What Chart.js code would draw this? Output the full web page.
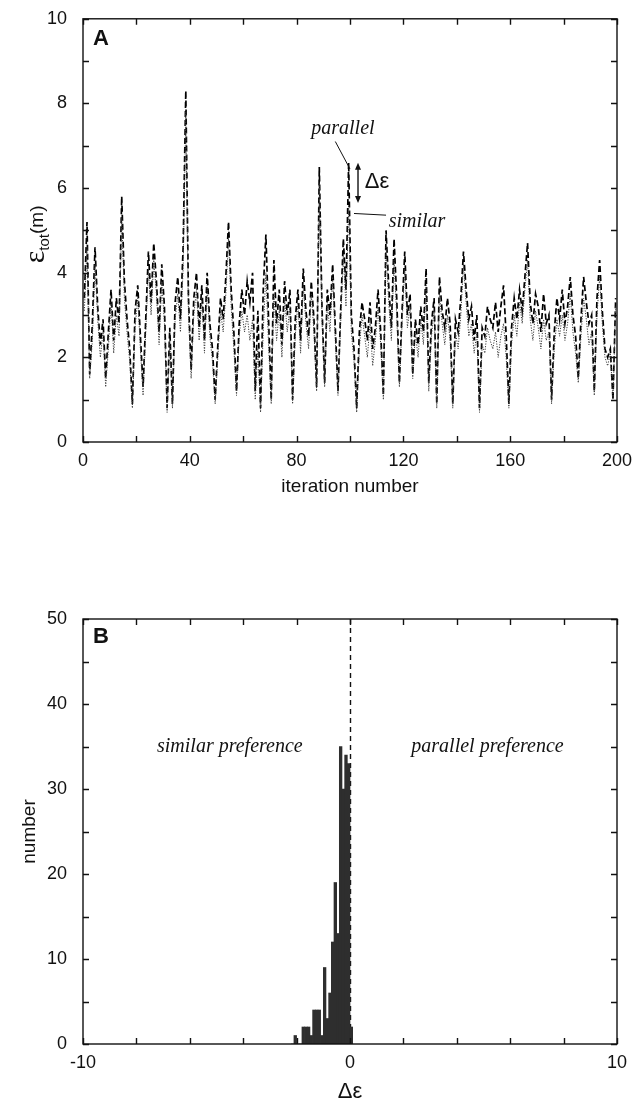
<!DOCTYPE html>
<html lang="en">
<head>
    <meta charset="UTF-8">
    <title>Total energy per iteration and Δε histogram</title>
    <script src="https://cdn.jsdelivr.net/npm/chart.js"></script>
    <style>
        body {
            margin: 0;
            background: #fff;
        }
        canvas {
            position: absolute;
            left: 0;
        }
        #chartA { top: 0; }
        #chartB { top: 540px; }
    </style>
</head>
<body>
    <canvas id="chartA" width="642" height="540"></canvas>
    <canvas id="chartB" width="642" height="564"></canvas>

    <script>
        // Panel A: total energy per iteration
        const parallelEnergy = [
            3.4, 5.2, 1.6, 2.8, 4.6, 3.2, 2.3, 2.9, 1.5, 2.6,
            3.6, 2.4, 3.4, 2.8, 5.8, 3.8, 2.9, 2.2, 0.9, 3.1,
            3.7, 2.5, 1.3, 2.9, 4.5, 3.3, 4.7, 3.8, 2.6, 4.2,
            3.2, 0.8, 2.7, 0.9, 3.3, 3.9, 2.9, 4.6, 8.3, 3.4,
            1.7, 3.4, 4.0, 2.7, 3.7, 2.4, 4.0, 2.8, 2.2, 1.0,
            2.3, 3.4, 2.9, 3.9, 5.2, 3.6, 2.6, 1.2, 2.8, 3.6,
            3.0, 3.8, 3.3, 4.0, 1.2, 3.1, 0.8, 3.6, 4.9, 2.9,
            1.0, 4.3, 2.8, 3.6, 2.3, 3.8, 3.0, 3.6, 1.0, 2.9,
            3.6, 2.4, 4.1, 3.1, 2.5, 3.8, 2.9, 1.3, 6.5, 3.2,
            1.4, 3.6, 3.0, 4.2, 2.7, 1.2, 3.1, 4.8, 3.6, 6.6,
            3.0, 2.2, 0.8, 2.6, 3.3, 2.9, 2.4, 3.3, 2.2, 2.7,
            3.6, 2.6, 1.1, 5.0, 3.7, 2.7, 4.8, 3.4, 1.4, 3.1,
            4.5, 3.0, 3.5, 1.6, 2.9, 2.3, 3.2, 2.6, 4.1, 1.4,
            2.8, 3.4, 0.9, 3.9, 3.1, 2.7, 3.4, 2.8, 0.9, 2.9,
            2.6, 3.4, 4.5, 3.6, 2.9, 3.2, 2.4, 3.0, 0.8, 2.7,
            2.5, 3.2, 2.9, 2.7, 3.3, 2.6, 3.2, 3.7, 2.5, 0.9,
            2.7, 3.4, 2.9, 3.6, 3.1, 3.9, 4.7, 3.3, 2.8, 3.5,
            3.2, 2.6, 3.5, 2.8, 3.0, 1.0, 2.6, 3.4, 2.9, 3.6,
            2.8, 3.2, 3.9, 3.0, 2.5, 1.5, 2.9, 3.9, 3.3, 2.8,
            3.0, 1.2, 3.4, 4.3, 3.1, 2.2, 2.0, 2.2, 1.0, 3.4
        ];
        const similarEnergy = [
            3.1, 4.6, 1.5, 2.4, 4.2, 2.9, 2.0, 2.6, 1.3, 2.2,
            3.3, 2.1, 3.0, 2.5, 5.3, 3.4, 2.6, 1.9, 0.8, 2.7,
            3.4, 2.2, 1.1, 2.6, 4.1, 3.0, 4.3, 3.5, 2.3, 3.8,
            2.8, 0.7, 2.4, 0.8, 2.9, 3.5, 2.6, 4.1, 7.8, 3.0,
            1.5, 3.0, 3.6, 2.4, 3.4, 2.1, 3.7, 2.5, 1.9, 0.9,
            2.0, 3.1, 2.6, 3.5, 4.8, 3.2, 2.2, 1.1, 2.5, 3.1,
            2.6, 3.0, 2.4, 2.9, 1.0, 2.2, 0.7, 2.6, 4.0, 2.3,
            0.9, 3.5, 2.4, 3.1, 2.0, 3.4, 2.6, 3.2, 0.9, 2.5,
            3.3, 2.1, 3.7, 2.8, 2.2, 3.5, 2.6, 1.2, 6.1, 2.9,
            1.3, 3.3, 2.6, 3.9, 2.4, 1.1, 2.8, 4.4, 3.2, 5.6,
            2.6, 1.9, 0.7, 2.2, 3.0, 2.5, 2.0, 2.8, 1.8, 2.4,
            3.2, 2.3, 1.0, 4.6, 3.3, 2.4, 4.3, 3.0, 1.3, 2.8,
            4.1, 2.7, 3.2, 1.5, 2.6, 2.0, 2.9, 2.3, 3.7, 1.2,
            2.5, 3.1, 0.8, 3.5, 2.8, 2.3, 3.0, 2.4, 0.8, 2.6,
            2.2, 3.0, 4.2, 3.3, 2.5, 2.8, 2.1, 2.6, 0.7, 2.3,
            2.1, 2.7, 2.4, 2.2, 2.6, 2.0, 2.5, 2.8, 2.0, 0.8,
            2.3, 3.0, 2.5, 3.3, 2.8, 3.6, 4.3, 2.9, 2.4, 3.1,
            2.7, 2.2, 2.9, 2.4, 2.6, 0.9, 2.2, 2.9, 2.5, 3.0,
            2.4, 2.8, 3.5, 2.6, 2.1, 1.4, 2.5, 3.4, 2.9, 2.3,
            2.6, 1.1, 3.0, 3.9, 2.8, 2.0, 1.8, 2.1, 1.0, 3.2
        ];

        // Panel B: histogram of Δε (bin centres and counts)
        const deltaBins = [
            -2.15, -2.05, -1.95, -1.85, -1.75, -1.65, -1.55, -1.45,
            -1.35, -1.25, -1.15, -1.05, -0.95, -0.85, -0.75, -0.65,
            -0.55, -0.45, -0.35, -0.25, -0.15, -0.05, 0.05
        ];
        const deltaCounts = [
            0, 1, 0, 0, 2, 2, 2, 1,
            4, 4, 4, 1, 9, 3, 6, 12,
            19, 13, 35, 30, 34, 33, 2
        ];

        const SANS = "'Liberation Sans', Arial, Helvetica, sans-serif";
        const SERIF = "'Liberation Serif', 'Times New Roman', serif";
        const INK = '#111';

        function tickOpts(step, labelEvery, pad) {
            return {
                stepSize: step,
                autoSkip: false,
                maxRotation: 0,
                padding: pad,
                color: INK,
                font: { family: SANS, size: 18 },
                callback: v => (Math.abs(v % labelEvery) < 1e-9 ? v : '')
            };
        }

        // box round the plot with inward ticks on all four sides
        const framePlugin = {
            id: 'frame',
            afterDraw(chart) {
                const { ctx, chartArea: a, scales: { x, y } } = chart;
                const len = 6;
                ctx.save();
                ctx.strokeStyle = INK;
                ctx.lineWidth = 1.4;
                ctx.strokeRect(a.left, a.top, a.right - a.left, a.bottom - a.top);
                ctx.beginPath();
                x.ticks.forEach(t => {
                    const px = Math.round(x.getPixelForValue(t.value)) + 0.5;
                    ctx.moveTo(px, a.bottom); ctx.lineTo(px, a.bottom - len);
                    ctx.moveTo(px, a.top); ctx.lineTo(px, a.top + len);
                });
                y.ticks.forEach(t => {
                    const py = Math.round(y.getPixelForValue(t.value)) + 0.5;
                    ctx.moveTo(a.left, py); ctx.lineTo(a.left + len, py);
                    ctx.moveTo(a.right, py); ctx.lineTo(a.right - len, py);
                });
                ctx.stroke();
                ctx.restore();
            }
        };

        const notesA = {
            id: 'notesA',
            afterDraw(chart) {
                const { ctx, chartArea: a, scales: { x, y } } = chart;
                ctx.save();
                ctx.fillStyle = INK;
                ctx.strokeStyle = INK;

                ctx.font = `bold 22px ${SANS}`;
                ctx.textBaseline = 'middle';
                ctx.fillText('A', a.left + 10, a.top + 20);

                // axis titles
                ctx.font = `19px ${SANS}`;
                ctx.textAlign = 'center';
                ctx.fillText('iteration number', (a.left + a.right) / 2, a.bottom + 45);

                ctx.save();
                ctx.translate(36, (a.top + a.bottom) / 2 + 4);
                ctx.rotate(-Math.PI / 2);
                ctx.textAlign = 'left';
                ctx.textBaseline = 'alphabetic';
                ctx.font = `30px ${SERIF}`;
                const w1 = ctx.measureText('ε').width;
                ctx.font = `15px ${SANS}`;
                const w2 = ctx.measureText('tot').width;
                ctx.font = `19px ${SANS}`;
                const w3 = ctx.measureText('(m)').width;
                let cx = -(w1 + w2 + w3) / 2;
                ctx.font = `30px ${SERIF}`;
                ctx.fillText('ε', cx, 8);
                cx += w1;
                ctx.font = `15px ${SANS}`;
                ctx.fillText('tot', cx, 13);
                cx += w2;
                ctx.font = `19px ${SANS}`;
                ctx.fillText('(m)', cx, 7);
                ctx.restore();

                // "parallel" / "similar" labels and the Δε arrow
                ctx.textAlign = 'left';
                ctx.textBaseline = 'alphabetic';
                ctx.font = `italic 20px ${SERIF}`;
                ctx.fillText('parallel', x.getPixelForValue(85.5), y.getPixelForValue(7.28));
                ctx.fillText('similar', x.getPixelForValue(114.5), y.getPixelForValue(5.08));

                ctx.lineWidth = 1;
                ctx.beginPath();
                ctx.moveTo(x.getPixelForValue(94.5), y.getPixelForValue(7.1));
                ctx.lineTo(x.getPixelForValue(100), y.getPixelForValue(6.45));
                ctx.moveTo(x.getPixelForValue(101.5), y.getPixelForValue(5.4));
                ctx.lineTo(x.getPixelForValue(113.5), y.getPixelForValue(5.36));
                ctx.stroke();

                const ax = x.getPixelForValue(103);
                const yTop = y.getPixelForValue(6.6);
                const yBot = y.getPixelForValue(5.65);
                ctx.lineWidth = 1.4;
                ctx.beginPath();
                ctx.moveTo(ax, yTop + 4); ctx.lineTo(ax, yBot - 4);
                ctx.stroke();
                ctx.beginPath();
                ctx.moveTo(ax, yTop); ctx.lineTo(ax - 3, yTop + 7); ctx.lineTo(ax + 3, yTop + 7); ctx.closePath();
                ctx.moveTo(ax, yBot); ctx.lineTo(ax - 3, yBot - 7); ctx.lineTo(ax + 3, yBot - 7); ctx.closePath();
                ctx.fill();

                ctx.font = `22px ${SANS}`;
                ctx.textBaseline = 'middle';
                ctx.fillText('Δε', x.getPixelForValue(105.5), y.getPixelForValue(6.15));
                ctx.restore();
            }
        };

        const notesB = {
            id: 'notesB',
            beforeDatasetsDraw(chart) {
                const { ctx, chartArea: a, scales: { x } } = chart;
                const zx = Math.round(x.getPixelForValue(0)) + 0.5;
                ctx.save();
                ctx.strokeStyle = INK;
                ctx.lineWidth = 1.4;
                ctx.setLineDash([5, 4]);
                ctx.beginPath();
                ctx.moveTo(zx, a.top);
                ctx.lineTo(zx, a.bottom);
                ctx.stroke();
                ctx.restore();
            },
            afterDraw(chart) {
                const { ctx, chartArea: a, scales: { x, y } } = chart;
                ctx.save();
                ctx.fillStyle = INK;
                ctx.textBaseline = 'middle';

                ctx.font = `bold 22px ${SANS}`;
                ctx.fillText('B', a.left + 10, a.top + 18);

                ctx.font = `italic 20px ${SERIF}`;
                ctx.textAlign = 'center';
                ctx.fillText('similar preference', x.getPixelForValue(-4.5), y.getPixelForValue(35));
                ctx.fillText('parallel preference', x.getPixelForValue(5.15), y.getPixelForValue(35));

                ctx.font = `22px ${SANS}`;
                ctx.fillText('Δε', x.getPixelForValue(0), a.bottom + 48);

                ctx.save();
                ctx.translate(30, (a.top + a.bottom) / 2);
                ctx.rotate(-Math.PI / 2);
                ctx.font = `19px ${SANS}`;
                ctx.fillText('number', 0, 0);
                ctx.restore();
                ctx.restore();
            }
        };

        const baseOptions = {
            responsive: false,
            animation: false,
            events: [],
            plugins: { legend: { display: false }, tooltip: { enabled: false } }
        };

        new Chart(document.getElementById('chartA'), {
            type: 'line',
            data: {
                datasets: [
                    {
                        label: 'similar',
                        data: similarEnergy.map((v, i) => ({ x: i + 0.5, y: v })),
                        borderColor: '#3a3a3a',
                        borderWidth: 1,
                        borderDash: [1.2, 1.4],
                        pointRadius: 0,
                        tension: 0
                    },
                    {
                        label: 'parallel',
                        data: parallelEnergy.map((v, i) => ({ x: i + 0.5, y: v })),
                        borderColor: '#000',
                        borderWidth: 1.7,
                        borderDash: [6, 3],
                        pointRadius: 0,
                        tension: 0
                    }
                ]
            },
            options: {
                ...baseOptions,
                layout: { padding: { top: 18, right: 25, left: 0, bottom: 0 } },
                scales: {
                    x: {
                        type: 'linear', min: 0, max: 200,
                        grid: { display: false }, border: { display: false },
                        ticks: tickOpts(20, 40, 0),
                        afterFit: s => { s.height = 98; }
                    },
                    y: {
                        min: 0, max: 10,
                        grid: { display: false }, border: { display: false },
                        ticks: tickOpts(1, 2, 8),
                        afterFit: s => { s.width = 83; }
                    }
                }
            },
            plugins: [framePlugin, notesA]
        });

        new Chart(document.getElementById('chartB'), {
            type: 'bar',
            data: {
                datasets: [{
                    label: 'number',
                    data: deltaBins.map((b, i) => ({ x: b, y: deltaCounts[i] })),
                    backgroundColor: '#2e2e2e',
                    borderWidth: 0,
                    barPercentage: 1,
                    categoryPercentage: 1
                }]
            },
            options: {
                ...baseOptions,
                layout: { padding: { top: 79, right: 25, left: 0, bottom: 0 } },
                scales: {
                    x: {
                        type: 'linear', min: -10, max: 10, offset: false,
                        grid: { display: false, offset: false }, border: { display: false },
                        ticks: tickOpts(2, 10, 0),
                        afterFit: s => { s.height = 60; }
                    },
                    y: {
                        min: 0, max: 50,
                        grid: { display: false }, border: { display: false },
                        ticks: tickOpts(5, 10, 8),
                        afterFit: s => { s.width = 83; }
                    }
                }
            },
            plugins: [framePlugin, notesB]
        });
    </script>
</body>
</html>
